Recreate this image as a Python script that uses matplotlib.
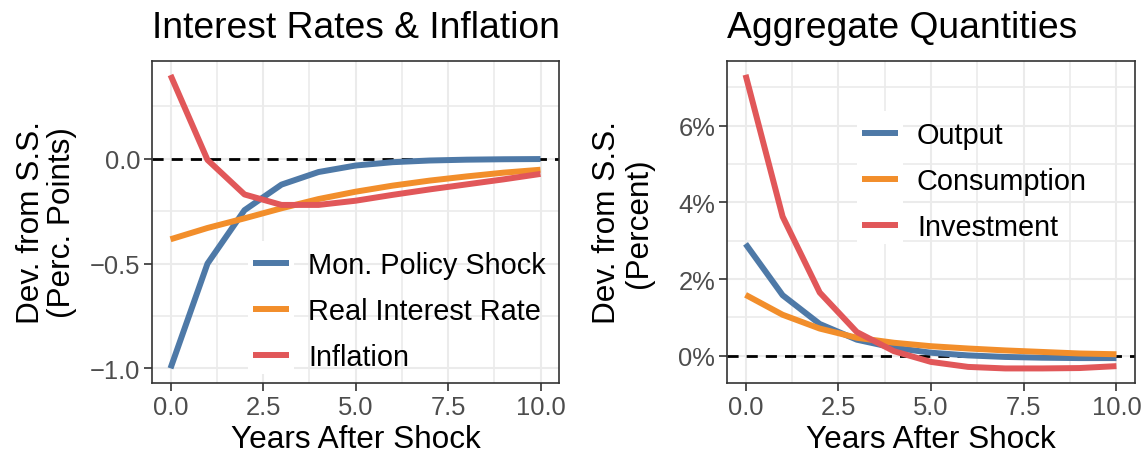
import matplotlib
matplotlib.use("Agg")
import matplotlib.pyplot as plt
from matplotlib.patches import Rectangle
from matplotlib.ticker import FuncFormatter, MultipleLocator

plt.rcParams['font.family'] = ['Liberation Sans', 'DejaVu Sans']

years = list(range(11))

# Interest rates & inflation (percentage points)
mon_policy = [-1.0, -0.50, -0.245, -0.123, -0.063, -0.032, -0.016, -0.008, -0.004, -0.002, -0.001]
real_rate = [-0.384, -0.330, -0.284, -0.236, -0.192, -0.157, -0.128, -0.104, -0.084, -0.066, -0.052]
inflation = [0.40, -0.005, -0.17, -0.22, -0.22, -0.20, -0.172, -0.146, -0.122, -0.098, -0.072]

# Aggregate quantities (percent)
output = [2.92, 1.58, 0.83, 0.42, 0.21, 0.08, 0.01, -0.03, -0.05, -0.06, -0.06]
consumption = [1.59, 1.07, 0.71, 0.47, 0.34, 0.25, 0.19, 0.14, 0.10, 0.06, 0.04]
investment = [7.33, 3.63, 1.65, 0.62, 0.12, -0.16, -0.29, -0.33, -0.33, -0.32, -0.27]

left_labels = ["Mon. Policy Shock", "Real Interest Rate", "Inflation"]
right_labels = ["Output", "Consumption", "Investment"]
x_ticks = [0.0, 2.5, 5.0, 7.5, 10.0]

BLUE, ORANGE, RED = "#4E79A7", "#F28E2B", "#E15759"
LW = 4.3
TICK_FS, AXIS_FS, LEG_FS, TITLE_FS = 18.4, 22.7, 20.8, 26.8

fig = plt.figure(figsize=(11.44, 4.56), dpi=100)
ax1 = fig.add_axes([152 / 1144, 1 - 384 / 456, 407 / 1144, 322 / 456])
ax2 = fig.add_axes([727 / 1144, 1 - 384 / 456, 408 / 1144, 322 / 456])


def style(ax):
    ax.set_facecolor("white")
    ax.set_xlim(-0.5, 10.5)
    ax.set_xticks(x_ticks)
    ax.xaxis.set_minor_locator(MultipleLocator(1.25))
    ax.grid(which="major", color="#EBEBEB", linewidth=1.5, zorder=0)
    ax.grid(which="minor", color="#EBEBEB", linewidth=1.2, zorder=0)
    ax.set_axisbelow(True)
    for s in ax.spines.values():
        s.set_color("#333333")
        s.set_linewidth(1.2)
    ax.tick_params(which="major", length=5.5, width=1.2, color="#333333",
                   labelsize=TICK_FS, labelcolor="#4D4D4D", pad=3)
    ax.tick_params(which="minor", length=0)
    ax.xaxis.set_major_formatter(FuncFormatter(lambda v, p: f"{v:.1f}"))
    ax.set_xlabel("Years After Shock", fontsize=AXIS_FS, labelpad=4)
    ax.axhline(0, color="black", linestyle=(0, (4, 2.9)), linewidth=2.0, zorder=2)


def legend(ax, **kw):
    leg = ax.legend(frameon=False, fontsize=LEG_FS, handlelength=1.25, handletextpad=0.65,
                    labelspacing=0.62, borderpad=0, borderaxespad=0, **kw)
    leg.set_zorder(6)
    return leg


def key_backgrounds(ax, leg):
    # white key boxes behind the legend lines (text sits on the panel)
    renderer = fig.canvas.get_renderer()
    ext = [h.get_window_extent(renderer) for h in leg.legend_handles]
    xs0 = min(e.x0 for e in ext)
    xs1 = max(e.x1 for e in ext)
    ys = sorted((e.y0 + e.y1) / 2 for e in ext)
    step = (ys[-1] - ys[0]) / (len(ys) - 1)
    inv = fig.transFigure.inverted()
    (fx0, fy0) = inv.transform((xs0 - 5, ys[0] - step / 2 + 4))
    (fx1, fy1) = inv.transform((xs1 + 5, ys[-1] + step / 2 - 1))
    ax.add_patch(Rectangle((fx0, fy0), fx1 - fx0, fy1 - fy0, transform=fig.transFigure,
                           facecolor="white", edgecolor="none", zorder=5, clip_on=False))


# Left panel
style(ax1)
ax1.set_ylim(-1.07, 0.467)
ax1.set_yticks([-1.0, -0.5, 0.0])
ax1.yaxis.set_minor_locator(MultipleLocator(0.25))
ax1.yaxis.set_major_formatter(FuncFormatter(lambda v, p: f"{v:.1f}".replace("-", "\u2212")))
for vals, col, lab in zip([mon_policy, real_rate, inflation], [BLUE, ORANGE, RED], left_labels):
    ax1.plot(years, vals, color=col, linewidth=LW, label=lab, zorder=3, solid_capstyle="butt")
ax1.set_ylabel("Dev. from S.S.\n(Perc. Points)", fontsize=AXIS_FS, linespacing=1.05)
ax1.yaxis.set_label_coords(-0.185, 0.5)
ax1.set_title("Interest Rates & Inflation", fontsize=TITLE_FS, loc="left", pad=17)
leg1 = legend(ax1, loc="lower right", bbox_to_anchor=(0.968, 0.037))

# Right panel
style(ax2)
ax2.set_ylim(-0.71, 7.69)
ax2.set_yticks([0, 2, 4, 6])
ax2.yaxis.set_minor_locator(MultipleLocator(1))
ax2.yaxis.set_major_formatter(FuncFormatter(lambda v, p: f"{v:.0f}%"))
for vals, col, lab in zip([output, consumption, investment], [BLUE, ORANGE, RED], right_labels):
    ax2.plot(years, vals, color=col, linewidth=LW, label=lab, zorder=3, solid_capstyle="butt")
ax2.set_ylabel("Dev. from S.S.\n(Percent)", fontsize=AXIS_FS, linespacing=1.05)
ax2.yaxis.set_label_coords(-0.18, 0.5)
ax2.set_title("Aggregate Quantities", fontsize=TITLE_FS, loc="left", pad=17)
leg2 = legend(ax2, loc="upper left", bbox_to_anchor=(0.331, 0.814))

fig.canvas.draw()
key_backgrounds(ax1, leg1)
key_backgrounds(ax2, leg2)

fig.savefig("out.png", dpi=100, facecolor="white")
